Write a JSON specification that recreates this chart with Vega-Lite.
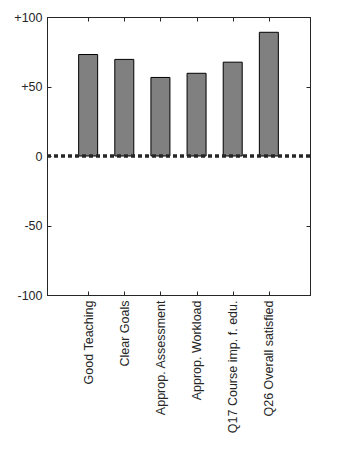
{
  "$schema": "https://vega.github.io/schema/vega-lite/v6.json",
  "width": 263,
  "height": 278,
  "autosize": "none",
  "padding": {"left": 47, "top": 17, "right": 44, "bottom": 177},
  "background": "white",
  "config": {
    "view": {"stroke": "#262626", "strokeWidth": 1},
    "axis": {"grid": false, "labelFont": "Liberation Sans", "labelFontSize": 12.5, "labelColor": "#262626", "domainColor": "#262626", "tickColor": "#262626", "title": null}
  },
  "datasets": {
    "bars": [
      {"pos": 1, "label": "Good Teaching", "value": 73},
      {"pos": 2, "label": "Clear Goals", "value": 69.5},
      {"pos": 3, "label": "Approp. Assessment", "value": 56.5},
      {"pos": 4, "label": "Approp. Workload", "value": 59.5},
      {"pos": 5, "label": "Q17 Course imp. f. edu.", "value": 67.5},
      {"pos": 6, "label": "Q26 Overall satisfied", "value": 89}
    ],
    "zero": [{"y": 0}]
  },
  "layer": [
    {
      "data": {"name": "bars"},
      "mark": {"type": "bar", "fill": "#808080", "stroke": "#000000", "strokeWidth": 1, "size": 19},
      "encoding": {
        "x": {"field": "pos", "type": "quantitative", "scale": {"domain": [0, 7], "nice": false, "zero": false},
          "axis": {"orient": "bottom", "values": [1, 2, 3, 4, 5, 6], "tickSize": -4, "labelAngle": -90, "labelAlign": "right", "labelBaseline": "middle", "labelPadding": 9,
            "labelExpr": "datum.value == 1 ? 'Good Teaching' : datum.value == 2 ? 'Clear Goals' : datum.value == 3 ? 'Approp. Assessment' : datum.value == 4 ? 'Approp. Workload' : datum.value == 5 ? 'Q17 Course imp. f. edu.' : 'Q26 Overall satisfied'"}},
        "y": {"field": "value", "type": "quantitative", "scale": {"domain": [-100, 100], "nice": false},
          "axis": {"orient": "left", "values": [-100, -50, 0, 50, 100], "tickSize": -4, "labelPadding": 9,
            "labelExpr": "datum.value > 0 ? '+' + datum.value : '' + datum.value"}}
      }
    },
    {
      "data": {"name": "bars"},
      "mark": {"type": "point", "opacity": 0},
      "encoding": {
        "x": {"field": "pos", "type": "quantitative", "axis": {"orient": "top", "values": [1, 2, 3, 4, 5, 6], "tickSize": -4, "labels": false}},
        "y": {"field": "value", "type": "quantitative", "axis": {"orient": "right", "values": [-100, -50, 0, 50, 100], "tickSize": -4, "labels": false}}
      }
    },
    {
      "data": {"name": "zero"},
      "mark": {"type": "rule", "stroke": "#262626", "strokeWidth": 3.5, "strokeDash": [4, 3]},
      "encoding": {"y": {"field": "y", "type": "quantitative", "axis": null}}
    }
  ],
  "resolve": {"axis": {"x": "independent", "y": "independent"}}
}
